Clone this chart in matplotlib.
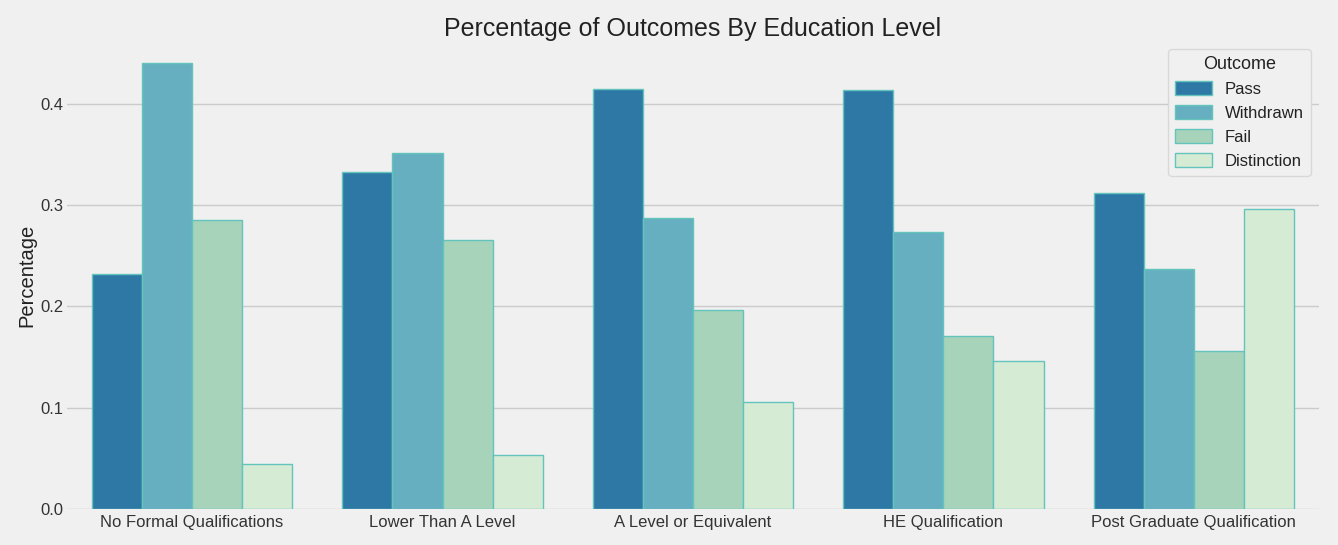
import matplotlib
matplotlib.use("Agg")
import matplotlib.pyplot as plt
import numpy as np

categories = ["No Formal Qualifications", "Lower Than A Level", "A Level or Equivalent",
              "HE Qualification", "Post Graduate Qualification"]
outcomes = ["Pass", "Withdrawn", "Fail", "Distinction"]
pass_vals = [0.232, 0.333, 0.414, 0.413, 0.312]
withdrawn_vals = [0.440, 0.351, 0.287, 0.273, 0.237]
fail_vals = [0.285, 0.265, 0.196, 0.171, 0.156]
distinction_vals = [0.044, 0.053, 0.106, 0.146, 0.296]
series = [pass_vals, withdrawn_vals, fail_vals, distinction_vals]
colors = ["#2e78a5", "#65afc0", "#a6d3ba", "#d6ebd3"]

plt.rcParams['font.family'] = ['Liberation Sans', 'DejaVu Sans']
fig = plt.figure(figsize=(13.38, 5.45), dpi=100, facecolor="#f0f0f0")
ax = fig.add_axes([0.050, 0.066, 0.9358, 0.8588], facecolor="#f0f0f0")

x = np.arange(len(categories))
w = 0.2
for i, (name, vals) in enumerate(zip(outcomes, series)):
    ax.bar(x + (i - 1.5) * w, vals, width=w, color=colors[i], edgecolor="#62c4bc",
           linewidth=1, label=name, zorder=3)

ax.set_xlim(-0.5, 4.5)
ax.set_ylim(0, 0.4618)
ax.set_yticks([0.0, 0.1, 0.2, 0.3, 0.4])
ax.set_xticks(x)
ax.set_xticklabels(categories, fontsize=12, color="#333333")
ax.tick_params(axis='y', labelsize=12, colors="#333333", length=0, pad=2.5)
ax.tick_params(axis='x', length=0, pad=4)
ax.yaxis.grid(True, color="#cbcbcb", linewidth=1, zorder=0)
ax.xaxis.grid(False)
for s in ax.spines.values():
    s.set_visible(False)
ax.set_ylabel("Percentage", fontsize=14.5, color="#222222", labelpad=3)
ax.set_title("Percentage of Outcomes By Education Level", fontsize=18, color="#222222", pad=3)

leg = ax.legend(title="Outcome", loc="upper right", fontsize=12, title_fontsize=13,
                facecolor="#f0f0f0", edgecolor="#d8d8d8", framealpha=1,
                handlelength=2.2, handleheight=0.9)
leg.get_title().set_color("#222222")
for t in leg.get_texts():
    t.set_color("#222222")

fig.savefig("out.png", dpi=100, facecolor="#f0f0f0")
